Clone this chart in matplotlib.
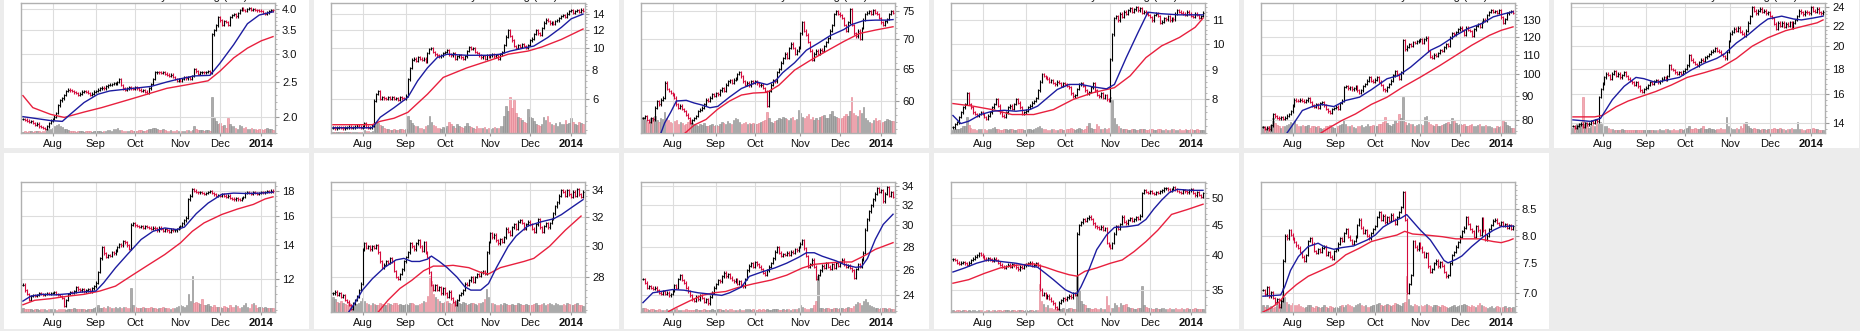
"""Eleven small six-month daily price charts (OHLC bars, 20/50-day averages, volume)."""

import matplotlib

matplotlib.use("Agg")
import matplotlib.pyplot as plt
import numpy as np
import pandas as pd
from matplotlib.patches import Rectangle
from matplotlib.ticker import FixedLocator, NullFormatter

plt.rcParams["font.family"] = ["Liberation Sans", "DejaVu Sans"]

# trading days 11 Jul 2013 .. 10 Jan 2014 (128 sessions)
HOLIDAYS = ["2013-09-02", "2013-11-28", "2013-12-25", "2014-01-01"]
DAYS = pd.bdate_range("2013-07-11", "2014-01-10", freq="C", holidays=HOLIDAYS)
MONTH_LABELS = ["Aug", "Sep", "Oct", "Nov", "Dec", "2014"]

# ---- closes (one line per month: Jul, Aug, Sep, Oct, Nov, Dec, Jan) ----
CLOSE_1 = [1.97, 1.96, 1.95, 1.93, 1.94, 1.92, 1.90, 1.91, 1.88, 1.87, 1.86, 1.85, 1.88, 1.92, 1.95,
           1.97, 2.00, 2.05, 2.15, 2.22, 2.25, 2.30, 2.36, 2.38, 2.37, 2.36, 2.34, 2.33, 2.30, 2.32, 2.35, 2.36, 2.35, 2.33, 2.30, 2.32, 2.35,
           2.36, 2.38, 2.40, 2.41, 2.40, 2.43, 2.45, 2.46, 2.47, 2.48, 2.48, 2.50, 2.55, 2.45, 2.40, 2.38, 2.40, 2.42, 2.40, 2.39,
           2.42, 2.40, 2.38, 2.36, 2.37, 2.35, 2.33, 2.40, 2.47, 2.55, 2.66, 2.67, 2.66, 2.65, 2.66, 2.64, 2.62, 2.60, 2.62, 2.58, 2.55, 2.52, 2.55,
           2.52, 2.55, 2.58, 2.56, 2.58, 2.55, 2.60, 2.72, 2.68, 2.64, 2.66, 2.67, 2.66, 2.67, 2.68, 2.66, 3.40, 3.50, 3.60, 3.80,
           3.72, 3.62, 3.70, 3.68, 3.62, 3.80, 3.85, 3.88, 3.82, 3.90, 3.98, 4.02, 3.98, 3.96, 4.00, 4.03, 3.98, 4.00, 3.98, 3.97, 3.96,
           3.95, 3.90, 3.88, 3.92, 3.95, 3.98, 3.97]
CLOSE_2 = [4.50, 4.48, 4.50, 4.52, 4.50, 4.48, 4.50, 4.52, 4.55, 4.50, 4.52, 4.55, 4.60, 4.55, 4.50,
           4.55, 4.70, 4.55, 4.50, 4.52, 4.60, 5.90, 6.30, 6.50, 6.00, 6.10, 6.05, 6.00, 6.10, 6.00, 6.10, 6.00, 6.05, 5.95, 6.10, 6.05, 6.00,
           6.20, 7.30, 8.20, 8.90, 9.00, 8.80, 9.10, 9.00, 8.90, 9.00, 8.70, 9.50, 9.90, 10.0, 9.60, 9.40, 9.30, 9.20, 9.30, 9.50,
           9.60, 9.80, 9.40, 9.30, 9.50, 9.00, 9.20, 9.30, 9.10, 9.00, 9.20, 9.70, 10.1, 9.90, 10.0, 9.60, 9.50, 9.30, 9.10, 9.20, 9.00, 9.30, 9.20,
           9.30, 9.40, 9.20, 9.30, 9.00, 9.40, 9.60, 10.3, 11.2, 12.0, 11.3, 10.8, 10.2, 10.0, 10.3, 10.1, 10.4, 10.2, 10.0, 10.3,
           10.8, 11.0, 11.5, 12.0, 11.6, 11.4, 12.2, 12.9, 13.3, 13.1, 12.8, 13.0, 12.7, 13.1, 13.2, 13.5, 13.8, 13.9, 13.7, 14.1, 14.5,
           14.6, 14.2, 14.5, 14.6, 14.4, 14.7, 14.5]
CLOSE_3 = [57.5, 57.8, 57.2, 57.0, 57.5, 57.3, 59.0, 60.0, 59.5, 60.2, 60.5, 62.8, 61.8, 61.5, 61.2,
           61.0, 60.5, 59.5, 59.0, 59.3, 58.8, 58.5, 58.0, 57.5, 56.8, 57.2, 57.5, 57.8, 58.5, 58.7, 59.0, 59.5, 60.2, 60.0, 60.5, 61.0, 60.8,
           61.2, 61.0, 61.6, 62.0, 61.5, 62.5, 63.0, 63.2, 62.8, 63.3, 63.5, 64.2, 64.5, 63.8, 63.0, 62.5, 62.8, 62.4, 63.0, 62.8,
           63.0, 62.7, 62.4, 62.5, 62.0, 61.5, 59.3, 61.5, 62.5, 63.2, 63.0, 64.5, 65.0, 66.0, 66.8, 67.5, 66.8, 68.5, 69.2, 68.5, 67.5, 68.0, 68.6,
           71.0, 73.0, 71.5, 70.8, 69.5, 68.0, 66.5, 67.5, 68.0, 67.5, 68.2, 68.0, 68.8, 69.5, 70.2, 71.5, 72.5, 74.5, 75.0, 74.6,
           74.3, 73.8, 72.5, 71.5, 73.0, 75.5, 72.5, 71.0, 70.5, 71.5, 70.0, 72.0, 73.5, 74.5, 74.8, 75.0, 74.6, 75.2, 74.8, 74.5, 73.8,
           73.0, 72.5, 73.2, 73.6, 74.5, 75.0, 74.8]
CLOSE_4 = [7.15, 7.25, 7.30, 7.45, 7.60, 7.75, 7.85, 8.20, 7.85, 7.75, 7.60, 7.55, 7.50, 7.55, 7.60,
           7.55, 7.45, 7.40, 7.50, 7.60, 7.75, 7.85, 8.00, 7.80, 7.60, 7.50, 7.45, 7.60, 7.75, 7.80, 7.70, 7.85, 8.00, 7.90, 7.75, 7.55, 7.60,
           7.65, 7.75, 7.80, 7.90, 7.95, 8.05, 8.30, 8.60, 8.85, 8.80, 8.75, 8.70, 8.60, 8.65, 8.55, 8.50, 8.60, 8.55, 8.45, 8.55,
           8.50, 8.45, 8.40, 8.20, 8.10, 8.15, 8.35, 8.50, 8.55, 8.45, 8.30, 8.20, 8.25, 8.40, 8.55, 8.30, 8.15, 8.10, 8.20, 8.05, 8.15, 8.00, 7.95,
           9.40, 10.4, 11.1, 11.2, 11.0, 11.3, 11.15, 11.4, 11.3, 11.45, 11.55, 11.4, 11.5, 11.6, 11.45, 11.55, 11.35, 11.4, 11.3, 11.25,
           11.15, 11.0, 11.25, 11.3, 11.2, 10.9, 10.95, 11.1, 11.05, 11.2, 11.0, 11.1, 11.05, 11.3, 11.45, 11.4, 11.35, 11.3, 11.25, 11.4, 11.3,
           11.2, 11.15, 11.3, 11.25, 11.1, 11.2, 11.35]
CLOSE_5 = [77.5, 76.8, 77.2, 76.5, 78.0, 82.5, 81.5, 81.0, 80.8, 81.2, 80.5, 81.0, 81.8, 82.5, 83.5,
           86.0, 88.5, 88.0, 87.8, 88.5, 88.0, 87.5, 88.2, 89.0, 87.5, 86.0, 85.5, 86.5, 85.0, 86.8, 87.5, 86.0, 84.5, 83.5, 83.0, 84.5, 85.0,
           85.5, 84.5, 87.0, 88.0, 94.0, 94.5, 93.5, 94.0, 93.0, 93.5, 94.5, 92.5, 91.5, 92.5, 94.5, 95.5, 97.0, 98.5, 97.0, 96.5,
           97.5, 98.5, 96.5, 95.0, 93.0, 92.5, 94.0, 95.5, 97.0, 99.5, 101.5, 100.0, 98.0, 101.0, 118.0, 113.0, 114.5, 116.0, 115.0, 117.0, 116.5, 117.5, 118.0,
           118.5, 116.5, 118.5, 119.5, 112.0, 109.0, 108.5, 110.0, 109.5, 111.0, 112.5, 112.0, 114.0, 116.0, 115.0, 119.5, 122.0, 121.5, 123.0, 124.5,
           125.5, 124.0, 121.0, 125.5, 124.0, 123.5, 120.5, 124.5, 126.5, 127.5, 126.0, 129.0, 130.5, 130.0, 133.5, 135.5, 136.5, 135.5, 136.0, 135.0, 136.5,
           132.0, 128.5, 131.0, 134.5, 135.5, 136.0, 135.0]
CLOSE_6 = [13.8, 13.7, 13.8, 13.9, 13.95, 13.75, 14.0, 13.9, 13.95, 14.1, 14.0, 14.2, 14.1, 15.8, 16.4,
           16.8, 17.3, 17.6, 17.5, 17.2, 17.6, 17.8, 17.4, 17.6, 17.3, 17.5, 17.7, 17.4, 17.2, 17.0, 16.9, 16.7, 16.9, 16.6, 16.3, 16.2, 16.4,
           16.5, 16.7, 16.9, 16.8, 17.0, 17.1, 16.9, 17.0, 17.2, 17.3, 17.1, 17.4, 18.3, 18.0, 17.9, 17.7, 17.6, 17.7, 17.6, 17.8,
           18.0, 18.3, 19.2, 18.8, 18.6, 18.4, 18.3, 18.6, 18.8, 18.7, 19.0, 19.1, 19.3, 19.5, 19.6, 19.8, 19.6, 19.5, 19.3, 19.1, 18.9, 19.5, 20.5,
           21.2, 21.4, 21.7, 21.5, 21.8, 21.4, 21.2, 21.0, 21.5, 22.3, 23.0, 24.0, 23.6, 23.3, 23.6, 23.8, 23.5, 23.6, 23.3, 23.4,
           23.0, 22.8, 22.2, 21.7, 22.3, 22.0, 22.3, 21.9, 22.2, 22.0, 22.4, 21.8, 22.3, 22.6, 23.0, 23.6, 23.4, 23.2, 23.5, 23.4, 23.3,
           24.0, 23.6, 23.5, 23.8, 23.4, 23.3, 23.5]
CLOSE_7 = [11.7, 11.4, 11.2, 10.9, 11.1, 11.15, 11.1, 11.15, 11.25, 11.2, 11.15, 11.2, 11.25, 11.2, 11.25,
           11.25, 11.3, 11.2, 11.15, 11.1, 11.0, 10.6, 10.9, 11.2, 11.3, 11.25, 11.35, 11.55, 11.45, 11.4, 11.45, 11.35, 11.4, 11.45, 11.35, 11.5, 11.6,
           11.8, 12.4, 13.2, 13.9, 13.5, 13.3, 13.4, 13.35, 13.6, 13.5, 13.7, 13.9, 14.1, 14.0, 14.3, 14.2, 14.0, 13.8, 15.4, 15.5,
           15.35, 15.3, 15.25, 15.3, 15.2, 15.3, 15.25, 15.2, 15.1, 15.2, 15.15, 15.0, 15.2, 15.1, 14.95, 15.1, 15.0, 14.9, 15.05, 15.0, 15.0, 15.1, 15.2,
           15.3, 15.5, 15.7, 15.9, 17.3, 17.6, 18.1, 18.0, 17.9, 17.85, 17.9, 17.8, 17.75, 17.8, 17.9, 17.95, 17.8, 17.7, 17.6, 17.65,
           17.6, 17.7, 17.6, 17.5, 17.6, 17.4, 17.35, 17.3, 17.4, 17.3, 17.25, 17.4, 17.5, 17.8, 17.85, 17.8, 17.75, 17.85, 17.8, 17.75, 17.8,
           17.9, 17.85, 17.9, 17.95, 17.9, 18.0, 17.95]
CLOSE_8 = [27.0, 27.1, 26.9, 27.0, 26.8, 26.9, 26.6, 26.5, 26.3, 26.1, 26.4, 26.6, 26.8, 27.2, 27.6,
           29.8, 30.2, 29.9, 30.0, 29.8, 30.0, 29.9, 30.1, 29.6, 29.0, 28.6, 28.8, 29.0, 28.9, 29.2, 29.0, 28.4, 28.0, 27.9, 28.2, 28.5, 29.0,
           29.3, 29.6, 30.2, 30.0, 29.8, 30.2, 30.4, 30.0, 29.7, 30.3, 29.6, 29.3, 28.3, 27.5, 27.2, 27.5, 27.2, 27.4, 27.0, 27.3,
           27.0, 26.8, 27.1, 26.7, 26.5, 26.3, 26.6, 26.9, 27.0, 27.2, 27.6, 27.5, 27.8, 28.0, 27.7, 28.0, 28.2, 28.1, 28.3, 28.4, 28.2, 29.6, 30.3,
           30.9, 30.6, 30.8, 30.4, 30.2, 30.5, 30.3, 30.6, 31.2, 31.0, 30.8, 31.3, 31.5, 31.2, 31.7, 31.8, 31.6, 31.2, 31.5, 31.7,
           31.5, 31.2, 31.0, 31.5, 31.9, 31.3, 31.0, 31.4, 31.6, 31.3, 31.6, 31.9, 32.3, 32.8, 33.1, 33.6, 34.0, 33.9, 33.6, 34.0, 33.7,
           33.5, 33.9, 33.6, 34.1, 33.7, 33.5, 33.9]
CLOSE_9 = [25.3, 25.0, 24.6, 24.7, 24.6, 24.5, 24.6, 24.4, 24.2, 24.1, 24.3, 24.1, 24.2, 24.0, 24.1,
           24.4, 24.8, 24.6, 25.3, 25.6, 25.2, 25.0, 24.6, 24.3, 24.0, 23.7, 23.6, 23.9, 23.7, 24.0, 23.8, 23.5, 23.7, 23.4, 23.9, 24.2, 24.6,
           24.9, 25.2, 25.1, 25.5, 25.8, 25.5, 25.7, 25.4, 25.2, 25.1, 25.3, 24.9, 25.1, 24.8, 24.7, 25.3, 26.0, 26.4, 26.6, 26.3,
           26.7, 26.5, 26.3, 26.1, 25.8, 25.6, 26.0, 26.3, 26.6, 27.0, 27.6, 28.0, 27.5, 27.2, 27.4, 27.3, 27.5, 27.3, 27.6, 27.5, 27.8, 27.7, 28.0,
           28.3, 28.6, 27.9, 27.2, 26.3, 26.5, 26.9, 26.3, 25.3, 25.6, 26.0, 26.4, 26.2, 26.6, 26.3, 26.1, 26.5, 26.2, 26.6, 26.4,
           26.7, 26.9, 26.5, 26.3, 26.4, 26.2, 26.0, 25.4, 26.1, 26.5, 26.3, 26.9, 27.5, 29.6, 30.6, 31.4, 32.0, 32.6, 33.2, 33.8, 33.4,
           33.6, 32.4, 33.2, 33.9, 33.0, 33.4, 32.9]
CLOSE_10 = [39.4, 39.3, 38.9, 38.7, 38.9, 39.0, 38.8, 38.6, 38.9, 39.3, 39.5, 39.8, 40.0, 40.3, 40.1,
            39.8, 39.5, 39.3, 39.6, 39.4, 39.2, 39.5, 39.3, 38.9, 38.6, 38.3, 38.1, 38.4, 38.6, 38.3, 38.7, 38.5, 38.2, 37.9, 38.3, 38.1, 38.5,
            38.6, 38.8, 38.9, 38.4, 38.6, 38.8, 38.5, 35.0, 34.3, 34.5, 34.0, 34.2, 33.8, 33.5, 33.2, 32.7, 32.5, 33.3, 33.6, 33.9,
            33.7, 34.0, 34.2, 34.0, 34.5, 34.3, 43.5, 45.0, 45.5, 46.0, 45.8, 46.2, 46.5, 46.1, 45.3, 44.8, 44.6, 44.3, 44.7, 44.2, 44.5, 42.0, 41.6,
            41.2, 42.0, 43.5, 44.8, 44.3, 45.2, 46.5, 45.6, 45.3, 45.9, 46.2, 45.8, 46.0, 46.4, 46.1, 46.7, 51.0, 51.5, 51.2, 51.0,
            51.4, 51.0, 50.8, 51.2, 51.0, 51.3, 51.5, 51.9, 52.0, 51.7, 51.4, 51.8, 52.1, 51.7, 51.4, 51.2, 51.0, 51.6, 51.3, 51.1, 51.5,
            51.8, 51.0, 50.5, 51.2, 50.6, 50.2, 51.0]
CLOSE_11 = [7.05, 6.98, 7.10, 6.95, 7.02, 6.92, 6.85, 6.90, 6.78, 6.88, 7.55, 8.00, 7.95, 8.10, 8.02,
            7.95, 7.88, 7.82, 7.78, 7.70, 7.62, 7.55, 7.65, 7.90, 7.95, 7.85, 7.72, 7.68, 7.75, 7.70, 7.78, 7.80, 7.65, 7.70, 7.62, 7.58, 7.72,
            7.75, 7.85, 7.95, 7.90, 8.05, 8.12, 7.98, 7.92, 7.85, 7.90, 7.98, 8.20, 8.30, 8.15, 8.05, 8.10, 8.00, 7.95, 8.05, 8.12,
            8.18, 8.35, 8.45, 8.30, 8.38, 8.25, 8.35, 8.28, 8.40, 8.30, 8.22, 8.35, 8.45, 8.55, 8.85, 8.30, 7.00, 7.15, 7.30, 7.90, 7.80, 7.75, 7.85,
            7.78, 7.70, 7.62, 7.68, 7.45, 7.35, 7.40, 7.50, 7.55, 7.45, 7.52, 7.46, 7.35, 7.28, 7.30, 7.50, 7.65, 7.70, 7.80, 7.88,
            7.98, 8.08, 8.15, 8.35, 8.22, 8.12, 8.08, 7.98, 8.18, 8.10, 8.02, 8.32, 8.10, 7.92, 8.00, 8.12, 8.20, 8.28, 8.30, 8.24, 8.20,
            8.25, 8.18, 8.22, 8.15, 8.20, 8.12, 8.18]

# ---- volume, relative units ----
VOL_1 = [4, 5, 4, 6, 5, 4, 5, 6, 5, 4, 5, 6, 8, 10, 12,
         14, 18, 22, 25, 20, 16, 12, 10, 8, 6, 5, 5, 4, 5, 6, 5, 4, 5, 6, 5, 4, 5,
         5, 6, 5, 4, 5, 6, 8, 7, 6, 10, 12, 14, 9, 7, 6, 5, 6, 5, 7, 6,
         5, 6, 8, 7, 5, 6, 8, 10, 12, 14, 15, 12, 9, 8, 10, 7, 6, 5, 8, 6, 5, 7, 6,
         5, 6, 5, 8, 7, 6, 9, 18, 12, 9, 8, 7, 6, 7, 8, 6, 100, 40, 32, 25,
         28, 18, 22, 15, 41, 26, 18, 20, 15, 12, 22, 18, 14, 16, 12, 10, 15, 12, 10, 8, 12,
         10, 9, 12, 14, 11, 10, 9]
VOL_2 = [2, 2, 3, 2, 2, 3, 2, 3, 2, 2, 3, 2, 4, 3, 3,
         4, 8, 6, 5, 4, 6, 22, 30, 28, 22, 18, 15, 12, 10, 9, 8, 10, 9, 8, 12, 10, 9,
         12, 48, 35, 28, 22, 20, 18, 15, 14, 12, 18, 22, 48, 30, 22, 18, 15, 14, 12, 16,
         14, 20, 30, 25, 18, 15, 24, 20, 16, 14, 18, 28, 20, 16, 14, 12, 18, 15, 14, 13, 16, 12, 14,
         12, 14, 16, 13, 15, 18, 20, 48, 75, 60, 100, 70, 92, 55, 45, 40, 35, 30, 28, 66,
         45, 40, 32, 25, 22, 20, 24, 43, 35, 48, 30, 25, 22, 28, 20, 30, 26, 25, 35, 24, 28,
         40, 30, 25, 22, 30, 28, 24]
VOL_3 = [45, 35, 30, 28, 40, 32, 48, 35, 30, 40, 38, 57, 42, 35, 30,
         28, 32, 35, 25, 30, 28, 22, 26, 30, 35, 28, 25, 22, 20, 25, 22, 28, 20, 18, 22, 25, 20,
         22, 20, 25, 30, 28, 24, 32, 28, 26, 35, 40, 38, 30, 26, 28, 30, 25, 27, 24, 28,
         26, 24, 28, 30, 32, 35, 59, 40, 30, 28, 32, 36, 40, 38, 45, 42, 38, 35, 40, 44, 36, 38, 63,
         55, 45, 40, 48, 52, 38, 44, 35, 40, 36, 45, 48, 50, 40, 42, 52, 60, 48, 44, 40,
         38, 42, 48, 52, 46, 60, 100, 55, 50, 48, 62, 55, 71, 40, 36, 30, 28, 35, 40, 32, 36,
         28, 30, 34, 38, 36, 34, 32]
VOL_4 = [8, 10, 12, 10, 15, 18, 20, 43, 22, 15, 12, 10, 8, 10, 12,
         10, 12, 8, 10, 12, 14, 16, 12, 10, 8, 9, 12, 10, 8, 10, 12, 9, 8, 10, 12, 10, 8,
         9, 10, 12, 8, 10, 14, 16, 18, 15, 12, 10, 9, 8, 10, 12, 9, 8, 10, 12, 9,
         8, 10, 12, 14, 10, 8, 12, 15, 10, 8, 12, 20, 28, 14, 12, 10, 26, 18, 12, 10, 14, 12, 15,
         100, 90, 40, 25, 18, 14, 12, 10, 12, 9, 8, 10, 12, 9, 8, 10, 12, 10, 9, 8,
         10, 12, 9, 8, 10, 12, 9, 8, 10, 9, 8, 10, 12, 9, 8, 10, 9, 8, 10, 9, 8,
         10, 9, 8, 10, 9, 8, 9]
VOL_5 = [20, 15, 12, 18, 22, 40, 28, 22, 18, 15, 20, 18, 22, 25, 30,
         28, 35, 25, 20, 18, 22, 20, 18, 22, 15, 18, 20, 16, 18, 15, 12, 14, 20, 18, 22, 16, 15,
         14, 18, 22, 26, 35, 25, 20, 18, 22, 16, 14, 18, 20, 22, 16, 18, 24, 20, 18, 22,
         20, 18, 24, 26, 30, 45, 28, 22, 20, 26, 35, 28, 52, 40, 100, 30, 22, 28, 26, 24, 20, 22, 25,
         24, 22, 45, 48, 30, 26, 22, 20, 24, 18, 20, 22, 26, 28, 30, 25, 40, 32, 28, 22,
         26, 22, 24, 20, 18, 22, 25, 20, 18, 22, 24, 20, 18, 22, 20, 18, 16, 15, 14, 20, 16,
         18, 37, 30, 22, 18, 15, 14]
VOL_6 = [15, 20, 25, 18, 22, 100, 30, 20, 15, 18, 22, 20, 25, 28, 30,
         25, 20, 18, 15, 12, 10, 9, 8, 9, 8, 10, 9, 8, 7, 8, 9, 8, 7, 8, 9, 8, 7,
         8, 7, 9, 8, 7, 8, 9, 10, 8, 9, 10, 12, 9, 8, 10, 9, 8, 12, 10, 9,
         10, 14, 18, 12, 10, 15, 12, 10, 14, 18, 12, 10, 15, 12, 10, 9, 12, 10, 14, 12, 10, 43, 20,
         15, 12, 10, 14, 12, 18, 15, 25, 30, 18, 14, 12, 15, 12, 10, 9, 12, 10, 9, 10,
         12, 10, 14, 12, 10, 15, 12, 10, 9, 12, 10, 14, 12, 10, 30, 12, 10, 9, 8, 10, 12,
         10, 14, 12, 10, 9, 8, 9]
VOL_7 = [10, 8, 9, 7, 8, 6, 7, 8, 6, 7, 8, 7, 6, 8, 9,
         8, 7, 6, 8, 7, 9, 8, 6, 7, 8, 9, 10, 8, 7, 9, 8, 7, 6, 8, 7, 9, 10,
         15, 18, 12, 10, 14, 12, 16, 14, 12, 10, 13, 12, 14, 12, 15, 13, 11, 10, 66, 20,
         14, 12, 10, 12, 14, 11, 12, 10, 14, 12, 10, 9, 12, 10, 14, 11, 10, 12, 9, 10, 12, 14, 16,
         18, 16, 14, 20, 50, 30, 100, 26, 28, 25, 22, 36, 20, 18, 22, 16, 14, 18, 15, 14,
         14, 12, 16, 14, 12, 18, 15, 14, 20, 16, 12, 14, 18, 25, 15, 12, 22, 24, 20, 12, 14,
         15, 12, 14, 10, 12, 11, 10]
VOL_8 = [42, 35, 28, 25, 30, 26, 22, 20, 25, 22, 18, 20, 22, 25, 30,
         38, 30, 26, 22, 20, 25, 22, 18, 20, 26, 22, 18, 20, 24, 22, 20, 26, 24, 20, 22, 18, 20,
         22, 20, 26, 24, 22, 18, 20, 22, 26, 30, 28, 45, 100, 86, 50, 40, 35, 30, 26, 24,
         28, 30, 25, 22, 24, 26, 30, 26, 22, 28, 24, 20, 22, 26, 24, 22, 20, 24, 26, 28, 35, 64, 40,
         26, 24, 22, 20, 18, 22, 20, 24, 22, 18, 20, 22, 18, 20, 24, 22, 20, 18, 22, 20,
         18, 20, 22, 24, 18, 20, 22, 24, 20, 22, 26, 22, 20, 24, 22, 20, 18, 22, 20, 24, 22,
         20, 18, 22, 24, 20, 18, 16]
VOL_9 = [12, 10, 8, 6, 8, 7, 6, 5, 7, 6, 5, 6, 7, 5, 6,
         7, 8, 10, 6, 5, 6, 5, 7, 6, 5, 6, 5, 7, 6, 5, 6, 8, 6, 5, 6, 7, 6,
         6, 7, 8, 6, 5, 7, 6, 8, 7, 6, 5, 6, 7, 6, 5, 8, 9, 7, 6, 7,
         6, 5, 7, 6, 8, 6, 7, 5, 6, 8, 9, 7, 6, 5, 7, 6, 8, 7, 6, 8, 7, 9, 12,
         18, 15, 10, 9, 8, 12, 10, 20, 30, 100, 12, 10, 9, 11, 10, 8, 9, 12, 10, 9,
         12, 10, 9, 12, 14, 10, 12, 16, 22, 28, 25, 20, 30, 35, 28, 18, 16, 14, 12, 10, 9,
         11, 10, 12, 9, 10, 8, 9]
VOL_10 = [5, 4, 6, 5, 4, 5, 6, 4, 5, 4, 6, 5, 4, 5, 6,
          5, 4, 6, 5, 4, 6, 5, 4, 5, 6, 4, 5, 6, 5, 4, 5, 6, 4, 5, 6, 5, 4,
          5, 4, 6, 5, 4, 6, 5, 77, 30, 22, 15, 18, 12, 10, 9, 8, 10, 9, 8, 10,
          9, 8, 10, 12, 9, 8, 100, 60, 30, 22, 18, 12, 10, 9, 8, 10, 9, 8, 10, 9, 8, 44, 20,
          12, 10, 26, 18, 15, 25, 20, 18, 22, 15, 12, 10, 9, 8, 10, 12, 72, 20, 15, 12,
          10, 9, 8, 10, 9, 8, 10, 12, 9, 8, 10, 9, 8, 10, 9, 8, 10, 9, 8, 10, 9,
          8, 9, 10, 8, 9, 8, 9]
VOL_11 = [20, 15, 18, 14, 16, 12, 14, 18, 22, 15, 66, 40, 28, 22, 18,
          25, 20, 18, 22, 16, 14, 12, 15, 20, 18, 14, 12, 16, 14, 12, 15, 18, 14, 12, 16, 14, 12,
          14, 12, 16, 18, 14, 20, 22, 18, 16, 14, 18, 22, 25, 20, 16, 18, 15, 14, 16, 18,
          20, 22, 25, 18, 16, 20, 22, 18, 16, 20, 24, 22, 18, 16, 24, 28, 100, 36, 20, 16, 22, 18, 16,
          18, 16, 20, 22, 18, 16, 14, 18, 20, 16, 14, 18, 16, 14, 12, 14, 16, 18, 14, 16,
          18, 20, 22, 18, 16, 14, 18, 16, 14, 20, 24, 18, 16, 14, 12, 14, 16, 12, 14, 16, 14,
          12, 14, 16, 12, 14, 12, 14]

# ---- moving averages: (session number, value) ----
FAST_1 = [(0, 2.00), (14, 1.95), (20, 1.94), (24, 2.03), (31, 2.19), (38, 2.31), (44, 2.36), (56, 2.40), (65, 2.43),
          (73, 2.50), (78, 2.54), (87, 2.60), (95, 2.61), (100, 2.82), (107, 3.18), (114, 3.64), (120, 3.85), (127, 3.93)]
SLOW_1 = [(0, 2.29), (5, 2.12), (14, 2.03), (21, 1.99), (31, 2.06), (40, 2.12), (56, 2.25), (73, 2.40), (84, 2.46),
          (94, 2.52), (100, 2.68), (107, 2.92), (114, 3.11), (121, 3.26), (127, 3.35)]
FAST_2 = [(0, 4.50), (20, 4.50), (24, 5.00), (31, 5.50), (38, 6.10), (43, 7.20), (48, 8.20), (53, 9.10), (58, 9.40),
          (68, 9.30), (79, 9.30), (85, 9.40), (90, 9.70), (97, 10.0), (102, 10.2), (109, 11.1), (116, 12.3), (121, 13.4), (127, 14.05)]
SLOW_2 = [(0, 4.64), (20, 4.64), (24, 4.80), (31, 4.95), (38, 5.25), (48, 6.30), (56, 7.45), (68, 8.20), (79, 8.80),
          (89, 9.40), (99, 9.70), (106, 10.1), (116, 10.9), (127, 12.1)]
FAST_3 = [(9, 55.3), (11, 56.8), (14, 58.3), (17, 60.0), (22, 60.1), (26, 59.7), (30, 59.4), (34, 59.0), (38, 59.2),
          (44, 60.6), (50, 61.9), (54, 62.4), (58, 62.9), (63, 62.5), (67, 63.0), (71, 64.4), (77, 66.0), (83, 68.1),
          (89, 69.3), (95, 70.6), (102, 71.7), (106, 72.6), (112, 73.3), (118, 73.4), (124, 73.4), (127, 73.5)]
SLOW_3 = [(21, 55.3), (26, 56.5), (32, 57.3), (38, 58.8), (44, 60.0), (50, 60.9), (56, 61.2), (63, 61.3), (69, 62.4),
          (77, 64.8), (85, 66.4), (93, 67.9), (102, 69.6), (110, 71.0), (118, 71.6), (127, 72.2)]
FAST_4 = [(0, 7.50), (4, 7.26), (8, 7.33), (14, 7.53), (20, 7.63), (26, 7.66), (32, 7.63), (39, 7.68), (43, 7.79),
          (49, 8.11), (53, 8.33), (59, 8.50), (65, 8.50), (71, 8.42), (78, 8.35), (82, 8.50), (88, 9.47), (94, 10.48),
          (99, 11.37), (106, 11.30), (115, 11.25), (127, 11.25)]
SLOW_4 = [(0, 7.87), (10, 7.79), (20, 7.68), (30, 7.53), (41, 7.53), (51, 7.68), (61, 8.00), (71, 8.22), (82, 8.39),
          (90, 8.80), (98, 9.47), (106, 9.93), (115, 10.27), (123, 10.70), (127, 11.10)]
FAST_5 = [(12, 75.0), (16, 79.2), (20, 83.9), (25, 85.5), (30, 86.4), (36, 85.5), (42, 88.1), (49, 89.5), (55, 92.8),
          (63, 97.9), (69, 99.5), (75, 103.6), (81, 108.8), (85, 112.4), (90, 115.0), (98, 120.9), (104, 124.9),
          (111, 128.0), (117, 132.3), (123, 134.4), (127, 135.6)]
SLOW_5 = [(29, 75.0), (34, 77.3), (40, 79.9), (47, 82.5), (55, 86.4), (63, 89.5), (71, 94.0), (80, 98.7), (90, 104.5),
          (98, 109.7), (106, 115.2), (115, 120.9), (121, 123.9), (127, 126.0)]
FAST_6 = [(0, 14.2), (9, 14.1), (14, 14.3), (20, 15.6), (26, 16.6), (32, 17.3), (36, 17.2), (42, 16.9), (48, 17.1),
          (54, 17.3), (60, 17.9), (67, 18.5), (73, 18.9), (77, 19.3), (83, 20.3), (89, 21.1), (95, 22.1), (99, 22.7),
          (106, 23.0), (112, 22.7), (116, 22.6), (122, 22.8), (127, 23.0)]
SLOW_6 = [(0, 14.4), (11, 14.4), (15, 14.5), (22, 15.1), (28, 15.5), (34, 15.8), (42, 16.2), (50, 16.7), (58, 17.3),
          (67, 17.7), (75, 18.1), (83, 18.9), (91, 20.0), (99, 20.8), (108, 21.5), (116, 21.9), (124, 22.3), (127, 22.6)]
FAST_7 = [(0, 10.85), (4, 11.10), (10, 11.19), (16, 11.16), (23, 11.22), (29, 11.30), (37, 11.36), (41, 11.80),
          (47, 12.64), (53, 13.43), (60, 14.39), (66, 14.94), (72, 15.17), (78, 15.06), (82, 15.23), (88, 16.20),
          (94, 17.00), (101, 17.70), (107, 17.80), (113, 17.77), (121, 17.80), (127, 17.87)]
SLOW_7 = [(0, 10.67), (6, 10.89), (14, 10.97), (23, 11.10), (31, 11.19), (39, 11.36), (47, 11.62), (55, 12.18),
          (64, 12.83), (72, 13.43), (80, 14.17), (86, 14.94), (92, 15.53), (101, 16.14), (109, 16.55), (117, 16.90),
          (123, 17.33), (127, 17.50)]
FAST_8 = [(8, 25.9), (11, 26.4), (15, 27.2), (20, 27.9), (26, 28.6), (32, 29.1), (36, 29.2), (40, 29.0), (44, 29.0),
          (48, 29.15), (50, 29.35), (54, 29.0), (58, 28.6), (63, 28.0), (67, 27.4), (70, 27.2), (75, 27.2), (79, 27.6),
          (83, 28.6), (89, 30.0), (93, 30.7), (99, 31.4), (106, 31.7), (112, 31.9), (116, 32.2), (122, 32.8), (127, 33.3)]
SLOW_8 = [(23, 25.9), (28, 26.6), (34, 27.3), (40, 27.8), (46, 28.4), (51, 28.7), (56, 28.7), (61, 28.75), (69, 28.6),
          (75, 28.3), (79, 28.2), (85, 28.6), (91, 28.8), (97, 29.0), (102, 29.2), (110, 30.0), (118, 31.1), (126, 32.1)]
FAST_9 = [(0, 23.45), (5, 24.2), (9, 24.3), (15, 24.45), (21, 24.4), (28, 24.2), (34, 24.1), (40, 24.0), (44, 24.2),
          (50, 24.65), (54, 25.5), (61, 25.9), (67, 26.2), (73, 26.6), (79, 27.1), (83, 27.5), (87, 27.5), (91, 27.2),
          (98, 26.8), (102, 26.5), (108, 26.25), (111, 26.3), (114, 27.0), (118, 28.7), (122, 30.1), (127, 31.1)]
SLOW_9 = [(13, 22.8), (17, 23.1), (24, 23.6), (30, 24.0), (36, 24.2), (42, 24.3), (48, 24.6), (56, 24.9), (65, 25.2),
          (73, 25.6), (81, 26.2), (87, 26.5), (93, 26.6), (100, 26.7), (106, 26.7), (112, 27.2), (118, 27.8),
          (124, 28.2), (127, 28.4)]
FAST_10 = [(0, 37.5), (6, 38.1), (12, 38.8), (18, 39.3), (26, 39.0), (32, 38.8), (39, 38.4), (43, 38.2), (47, 37.3),
           (51, 36.4), (57, 35.0), (61, 34.5), (63, 34.5), (65, 35.4), (69, 37.8), (73, 40.9), (78, 43.3), (82, 44.6),
           (88, 44.7), (94, 45.0), (98, 46.0), (102, 47.9), (106, 49.6), (110, 51.1), (114, 51.7), (121, 51.5), (127, 51.5)]
SLOW_10 = [(0, 35.9), (8, 36.4), (16, 37.3), (24, 38.1), (32, 38.5), (41, 38.7), (47, 38.2), (53, 37.6), (59, 37.1),
           (63, 36.9), (67, 37.6), (73, 38.1), (80, 38.8), (86, 39.3), (92, 40.6), (98, 42.2), (104, 44.1),
           (111, 46.9), (119, 47.8), (127, 48.8)]
FAST_11 = [(0, 6.95), (9, 6.97), (11, 7.10), (14, 7.38), (18, 7.62), (23, 7.80), (28, 7.86), (31, 7.80), (36, 7.75),
           (40, 7.78), (46, 7.81), (53, 7.92), (57, 8.01), (61, 8.16), (66, 8.27), (70, 8.33), (73, 8.40), (76, 8.27),
           (80, 8.10), (85, 7.92), (89, 7.71), (92, 7.55), (94, 7.51), (98, 7.57), (101, 7.63), (106, 7.80),
           (112, 7.98), (117, 8.10), (121, 8.17), (127, 8.18)]
SLOW_11 = [(0, 6.70), (4, 6.76), (8, 6.85), (12, 7.00), (17, 7.14), (23, 7.28), (29, 7.37), (36, 7.48), (42, 7.65),
           (49, 7.77), (55, 7.89), (61, 7.95), (68, 8.01), (72, 8.08), (76, 8.03), (83, 8.01), (91, 7.98), (98, 7.94),
           (104, 7.94), (110, 7.94), (117, 7.89), (121, 7.87), (125, 7.91), (127, 7.94)]

PANELS = [
    dict(close=CLOSE_1, vol=VOL_1, fast=FAST_1, slow=SLOW_1, ylim=(1.80, 4.16), ticks=[2.0, 2.5, 3.0, 3.5, 4.0], fmt="{:.1f}"),
    dict(close=CLOSE_2, vol=VOL_2, fast=FAST_2, slow=SLOW_2, ylim=(4.27, 15.7), ticks=[6, 8, 10, 12, 14], fmt="{:.0f}"),
    dict(close=CLOSE_3, vol=VOL_3, fast=FAST_3, slow=SLOW_3, ylim=(55.4, 76.6), ticks=[60, 65, 70, 75], fmt="{:.0f}"),
    dict(close=CLOSE_4, vol=VOL_4, fast=FAST_4, slow=SLOW_4, ylim=(6.99, 11.8), ticks=[8, 9, 10, 11], fmt="{:.0f}"),
    dict(close=CLOSE_5, vol=VOL_5, fast=FAST_5, slow=SLOW_5, ylim=(75.2, 141.5), ticks=[80, 90, 100, 110, 120, 130], fmt="{:.0f}"),
    dict(close=CLOSE_6, vol=VOL_6, fast=FAST_6, slow=SLOW_6, ylim=(13.36, 24.45), ticks=[14, 16, 18, 20, 22, 24], fmt="{:.0f}"),
    dict(close=CLOSE_7, vol=VOL_7, fast=FAST_7, slow=SLOW_7, ylim=(10.32, 18.73), ticks=[12, 14, 16, 18], fmt="{:.0f}"),
    dict(close=CLOSE_8, vol=VOL_8, fast=FAST_8, slow=SLOW_8, ylim=(25.9, 34.64), ticks=[28, 30, 32, 34], fmt="{:.0f}"),
    dict(close=CLOSE_9, vol=VOL_9, fast=FAST_9, slow=SLOW_9, ylim=(22.76, 34.47), ticks=[24, 26, 28, 30, 32, 34], fmt="{:.0f}"),
    dict(close=CLOSE_10, vol=VOL_10, fast=FAST_10, slow=SLOW_10, ylim=(32.1, 53.2), ticks=[35, 40, 45, 50], fmt="{:.0f}"),
    dict(close=CLOSE_11, vol=VOL_11, fast=FAST_11, slow=SLOW_11, ylim=(6.70, 9.06), ticks=[7.0, 7.5, 8.0, 8.5], fmt="{:.1f}"),
]

# layout in pixels
FIG_W, FIG_H = 1860, 331
COL_STEP = 310
CARD_LEFT, CARD_W = 4, 305
CARD_ROWS = [(-27, 148), (153, 329)]
PLOT_LEFT, PLOT_W, PLOT_H = 21, 254, 130
PLOT_TOP = [3, 182]
TITLE_X = 190  # title centre, from card left (only its descenders show above the crop)

BG = "#ececec"
UP, DOWN = "#000000", "#d40a3c"
FAST_C, SLOW_C = "#1c1ca0", "#e8203e"
VOL_UP, VOL_UP_EDGE = "#ababab", "#8a8a8a"
VOL_DN, VOL_DN_EDGE = "#f3aab3", "#e37f8e"
GRID = "#dddddd"
WICK_PX = 1.3
VOL_SHARE = 0.28


def px_rect(left, top, width, height):
    return [left / FIG_W, 1 - (top + height) / FIG_H, width / FIG_W, height / FIG_H]


def draw_panel(fig, k, p):
    row, col = divmod(k, 6)
    x0 = col * COL_STEP
    top, bot = CARD_ROWS[row]
    fig.add_artist(Rectangle(((x0 + CARD_LEFT) / FIG_W, 1 - bot / FIG_H), CARD_W / FIG_W, (bot - top) / FIG_H,
                             transform=fig.transFigure, facecolor="white", edgecolor="none", zorder=-5))
    if row == 0:
        fig.text((x0 + CARD_LEFT + TITLE_X) / FIG_W, 1 + 0.6 / FIG_H, "Daily Price Log (6M)",
                 ha="center", va="baseline", fontsize=8.5, color="#222222")

    ax = fig.add_axes(px_rect(x0 + PLOT_LEFT, PLOT_TOP[row], PLOT_W, PLOT_H))
    vax = ax.twinx()
    ax.set_zorder(vax.get_zorder() + 1)
    ax.patch.set_visible(False)

    close = np.array(p["close"], dtype=float)
    n = len(close)
    x = np.arange(n)
    opens = np.r_[close[0], close[:-1]]
    up = close >= opens
    colors = np.where(up, UP, DOWN)

    # volume underlay
    vol = np.array(p["vol"], dtype=float)
    vax.bar(x, vol, width=0.8, color=np.where(up, VOL_UP, VOL_DN),
            edgecolor=np.where(up, VOL_UP_EDGE, VOL_DN_EDGE), linewidth=0.4)
    vax.set_ylim(0, vol.max() / VOL_SHARE)
    vax.set_yticks([])
    for s in vax.spines.values():
        s.set_visible(False)

    # OHLC bars
    lo_lim, hi_lim = p["ylim"]
    pad = np.exp(WICK_PX * np.log(hi_lim / lo_lim) / PLOT_H)
    hi = np.maximum(opens, close) * pad
    lo = np.minimum(opens, close) / pad
    ax.vlines(x, lo, hi, colors=colors, linewidth=0.8, zorder=3)
    ax.hlines(opens, x - 0.45, x, colors=colors, linewidth=0.8, zorder=3)
    ax.hlines(close, x, x + 0.45, colors=colors, linewidth=0.8, zorder=3)

    for knots, c in ((p["slow"], SLOW_C), (p["fast"], FAST_C)):
        kx, ky = zip(*knots)
        ax.plot(kx, ky, color=c, linewidth=1.0, zorder=4, solid_joinstyle="round")

    ax.set_yscale("log")
    ax.set_ylim(lo_lim, hi_lim)
    ax.set_xlim(-1, n)
    ax.yaxis.tick_right()
    ax.yaxis.set_major_locator(FixedLocator(p["ticks"]))
    ax.yaxis.set_major_formatter(plt.FixedFormatter([p["fmt"].format(t) for t in p["ticks"]]))
    step = p["ticks"][1] - p["ticks"][0]
    minors = np.arange(p["ticks"][0] - 10 * step, p["ticks"][-1] + 10 * step, step / 5)
    ax.yaxis.set_minor_locator(FixedLocator([m for m in minors if m > 0]))
    ax.yaxis.set_minor_formatter(NullFormatter())

    ax.set_xticks(MONTH_POS)
    ax.set_xticklabels(MONTH_LABELS)
    ax.get_xticklabels()[-1].set_fontweight("bold")

    ax.tick_params(axis="y", which="major", length=3, width=0.8, pad=2, labelsize=8, colors="#9a9a9a", labelcolor="#111111")
    ax.tick_params(axis="y", which="minor", length=1.5, width=0.6, colors="#a8a8a8")
    ax.tick_params(axis="x", length=2.5, width=0.8, pad=2, labelsize=8, colors="#9a9a9a", labelcolor="#111111")
    ax.grid(True, which="major", color=GRID, linewidth=0.8, zorder=0)
    for s in ax.spines.values():
        s.set_color("#b0b0b0")
        s.set_linewidth(1.0)


idx = pd.Series(np.arange(len(DAYS)), index=DAYS)
MONTH_POS = idx.groupby(DAYS.to_period("M")).first().values[1:]

fig = plt.figure(figsize=(FIG_W / 100, FIG_H / 100), dpi=100, facecolor=BG)
for k, panel in enumerate(PANELS):
    assert len(panel["close"]) == len(DAYS) == len(panel["vol"]), (k, len(panel["close"]), len(panel["vol"]))
    draw_panel(fig, k, panel)

fig.savefig("out.png", dpi=100, facecolor=BG)
